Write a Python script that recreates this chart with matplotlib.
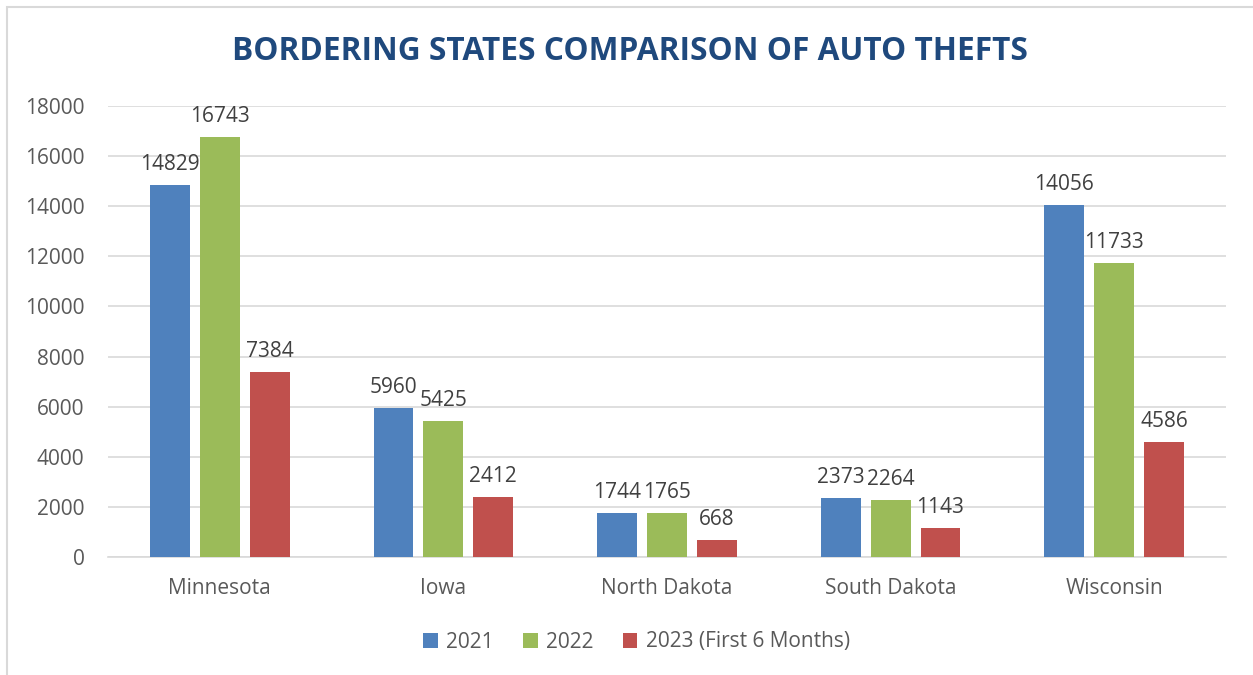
import numpy as np
import matplotlib
matplotlib.use("Agg")
import matplotlib.pyplot as plt
from matplotlib.patches import Rectangle

states = ["Minnesota", "Iowa", "North Dakota", "South Dakota", "Wisconsin"]
series_names = ["2021", "2022", "2023 (First 6 Months)"]
thefts_2021 = [14829, 5960, 1744, 2373, 14056]
thefts_2022 = [16743, 5425, 1765, 2264, 11733]
thefts_2023 = [7384, 2412, 668, 1143, 4586]
yticks = [0, 2000, 4000, 6000, 8000, 10000, 12000, 14000, 16000, 18000]

colors = ["#4F81BD", "#9BBB59", "#C0504D"]
text_color = "#595959"

plt.rcParams["font.family"] = ["Open Sans", "DejaVu Sans"]

fig = plt.figure(figsize=(12.53, 6.75), dpi=100)
ax = fig.add_axes([108 / 1253, 1 - 557 / 675, 1118 / 1253, 451 / 675])

x = np.arange(len(states))
width = 0.178
step = 0.223
for i, (vals, name) in enumerate(zip([thefts_2021, thefts_2022, thefts_2023], series_names)):
    bars = ax.bar(x + (i - 1) * step, vals, width, color=colors[i], label=name, zorder=3)
    for rect, v in zip(bars, vals):
        ax.text(rect.get_x() + rect.get_width() / 2, v + 400, str(v),
                ha="center", va="bottom", fontsize=15, color="#404040")

ax.set_xlim(-0.5, len(states) - 0.5)
ax.set_ylim(0, 18000)
ax.set_yticks(yticks)
ax.set_yticklabels([str(t) for t in yticks])
ax.set_xticks(x)
ax.set_xticklabels(states)
ax.tick_params(axis="both", length=0, labelsize=15, labelcolor=text_color)
ax.tick_params(axis="y", pad=17)
ax.tick_params(axis="x", pad=15)
ax.grid(axis="y", color="#D9D9D9", linewidth=1.2, zorder=0)
for s in ["left", "right", "top"]:
    ax.spines[s].set_visible(False)
ax.spines["bottom"].set_color("#D9D9D9")
ax.spines["bottom"].set_linewidth(1.2)

fig.text(0.503, 1 - 51 / 675, "BORDERING STATES COMPARISON OF AUTO THEFTS",
         ha="center", va="center", fontsize=22.8, fontweight="bold", color="#1F497D")

fig.legend(loc="center", bbox_to_anchor=(0.508, 1 - 642 / 675), ncol=3, frameon=False,
           fontsize=15, labelcolor=text_color, handlelength=0.7, handleheight=0.7,
           columnspacing=1.4, handletextpad=0.4)

# outer chart border (cut off at right and bottom)
fig.patches.append(Rectangle((7 / 1253, -0.1), 1.2, 1 - 7 / 675 + 0.1, transform=fig.transFigure,
                             fill=False, edgecolor="#D9D9D9", linewidth=1.5))

fig.savefig("out.png", dpi=100)
